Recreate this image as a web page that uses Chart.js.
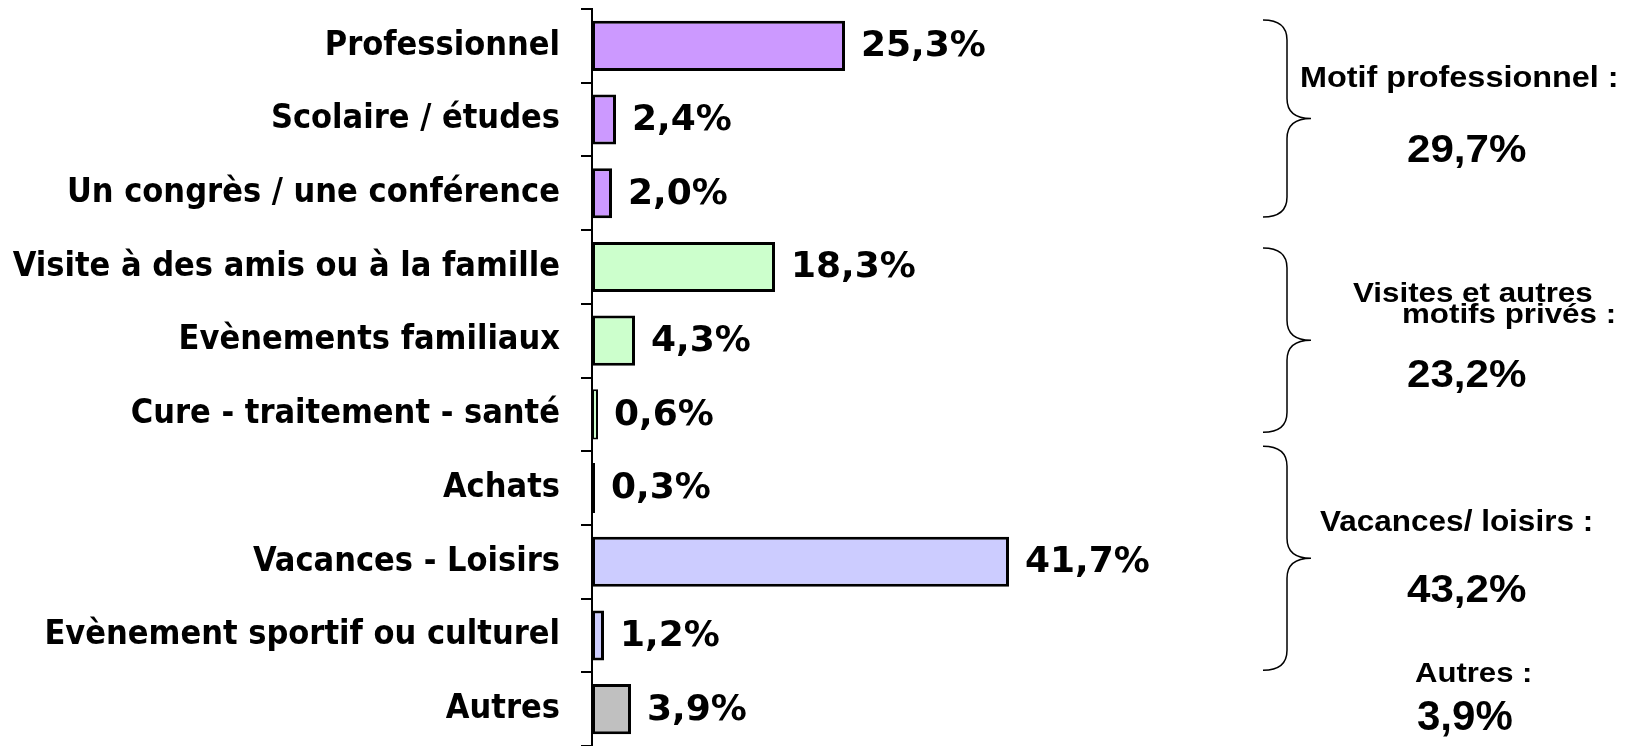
<!DOCTYPE html>
<html>
<head>
<meta charset="utf-8">
<script src="https://cdn.jsdelivr.net/npm/chart.js@4/dist/chart.umd.min.js"></script>
<style>
  html, body { margin: 0; padding: 0; background: #fff; }
  canvas { display: block; }
</style>
</head>
<body>
<canvas id="chart" width="1640" height="746"></canvas>
<script>
const categories = [
  'Professionnel',
  'Scolaire / études',
  'Un congrès / une conférence',
  'Visite à des amis ou à la famille',
  'Evènements familiaux',
  'Cure - traitement - santé',
  'Achats',
  'Vacances - Loisirs',
  'Evènement sportif ou culturel',
  'Autres'
]
const shares = [25.3, 2.4, 2.0, 18.3, 4.3, 0.6, 0.3, 41.7, 1.2, 3.9]
const barColors = ['#CC99FF', '#CC99FF', '#CC99FF', '#CCFFCC', '#CCFFCC', '#CCFFCC', '#CCCCFF', '#CCCCFF', '#CCCCFF', '#C0C0C0']

// regroupements affichés à droite
const groupTitles = [['Motif professionnel :'], ['Visites et autres', 'motifs privés :'], ['Vacances/ loisirs :'], ['Autres :']]
const groupTotals = [29.7, 23.2, 43.2, 3.9]
const groupFirst = [0, 3, 6, 9]
const groupLast = [2, 5, 8, 9]

const fmt = (v) => v.toFixed(1).replace('.', ',') + '%'

const valueLabels = {
  id: 'valueLabels',
  afterDatasetsDraw(chart) {
    const ctx = chart.ctx
    const meta = chart.getDatasetMeta(0)
    ctx.save()
    ctx.font = 'bold 36px "DejaVu Sans"'
    ctx.fillStyle = '#000'
    ctx.textAlign = 'left'
    ctx.textBaseline = 'middle'
    meta.data.forEach((bar, i) => {
      ctx.fillText(fmt(shares[i]), bar.x + 16, bar.y + 1)
    })
    ctx.restore()
  }
}

// texte étiré horizontalement comme dans l'original
function wideText(ctx, txt, x, y, sx) {
  ctx.save()
  ctx.translate(x, y)
  ctx.scale(sx, 1)
  ctx.fillText(txt, 0, 0)
  ctx.restore()
}

const groupNotes = {
  id: 'groupNotes',
  afterDraw(chart) {
    const ctx = chart.ctx
    const y = chart.scales.y
    const band = y.getPixelForValue(1) - y.getPixelForValue(0)
    // placement par groupe : titre (taille, étirement, lignes [x, décalage]),
    // total (x, décalage, taille, étirement), accolade (retraits haut/bas)
    const place = [
      { font: [30, 1.08], lines: [[1300, -33]], total: [1407, 42, 39, 1.08], brace: [11, 13] },
      { font: [27, 1.16], lines: [[1353, -39], [1402, -18]], total: [1407, 46, 39, 1.08], brace: [18, 19] },
      { font: [30, 1.05], lines: [[1320, -31]], total: [1407, 40, 39, 1.08], brace: [-5, 2] },
      { font: [28, 1.11], lines: [[1415, -27]], total: [1417, 21, 42, 1.0], brace: null }
    ]
    ctx.save()
    ctx.fillStyle = '#000'
    ctx.strokeStyle = '#000'
    ctx.textAlign = 'left'
    ctx.textBaseline = 'alphabetic'
    groupTitles.forEach((lines, g) => {
      const top = y.getPixelForValue(groupFirst[g]) - band / 2
      const bottom = y.getPixelForValue(groupLast[g]) + band / 2
      const mid = (top + bottom) / 2
      const p = place[g]
      if (p.brace) {
        const t = top + p.brace[0], b = bottom - p.brace[1]
        const m = (t + b) / 2
        const x0 = 1263, xv = 1287, xt = 1311, r = 20
        ctx.lineWidth = 1.5
        ctx.beginPath()
        ctx.moveTo(x0, t)
        ctx.quadraticCurveTo(xv, t, xv, t + r)
        ctx.lineTo(xv, m - r)
        ctx.quadraticCurveTo(xv, m, xt, m)
        ctx.quadraticCurveTo(xv, m, xv, m + r)
        ctx.lineTo(xv, b - r)
        ctx.quadraticCurveTo(xv, b, x0, b)
        ctx.stroke()
      }
      ctx.font = 'bold ' + p.font[0] + 'px "Liberation Sans", Arial, sans-serif'
      lines.forEach((txt, k) => {
        wideText(ctx, txt, p.lines[k][0], mid + p.lines[k][1], p.font[1])
      })
      ctx.font = 'bold ' + p.total[2] + 'px "Liberation Sans", Arial, sans-serif'
      wideText(ctx, fmt(groupTotals[g]), p.total[0], mid + p.total[1], p.total[3])
    })
    ctx.restore()
  }
}

new Chart(document.getElementById('chart'), {
  type: 'bar',
  data: {
    labels: categories,
    datasets: [{
      data: shares,
      backgroundColor: barColors,
      borderColor: '#000',
      borderWidth: (c) => (c.raw < 1 ? 2 : 3),
      borderSkipped: false,
      barPercentage: 0.68,
      categoryPercentage: 1
    }]
  },
  options: {
    indexAxis: 'y',
    responsive: false,
    animation: false,
    layout: { padding: { top: 9, right: 448, bottom: -3, left: 0 } },
    plugins: { legend: { display: false }, tooltip: { enabled: false } },
    scales: {
      x: { display: false, min: 0, max: 60 },
      y: {
        afterFit(scale) {
          scale.width = 592
          scale.paddingTop = 0
          scale.paddingBottom = 0
        },
        border: { display: true, color: '#000', width: 2 },
        grid: { drawOnChartArea: false, drawTicks: true, tickLength: 11, color: '#000', lineWidth: 2 },
        ticks: {
          color: '#000',
          padding: 21,
          font: { family: '"DejaVu Sans Condensed", "DejaVu Sans"', size: 34, weight: 'bold' }
        }
      }
    }
  },
  plugins: [valueLabels, groupNotes]
})
</script>
</body>
</html>
